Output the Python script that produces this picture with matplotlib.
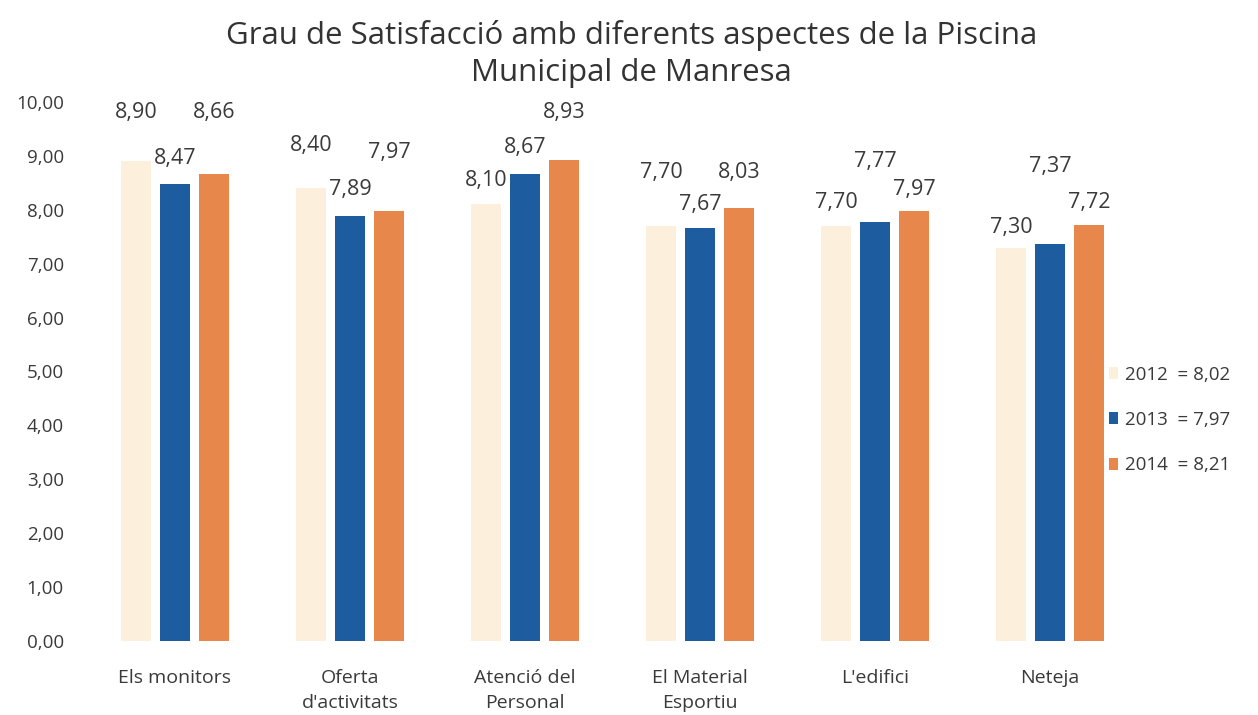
import numpy as np
import matplotlib
matplotlib.use("Agg")
from matplotlib import pyplot as plt
from matplotlib.patches import Patch

# Data
categories = ["Els monitors", "Oferta\nd'activitats", "Atenció del\nPersonal",
              "El Material\nEsportiu", "L'edifici", "Neteja"]
years = ["2012", "2013", "2014"]
vals_2012 = [8.90, 8.40, 8.10, 7.70, 7.70, 7.30]
vals_2013 = [8.47, 7.89, 8.67, 7.67, 7.77, 7.37]
vals_2014 = [8.66, 7.97, 8.93, 8.03, 7.97, 7.72]

# Label placement (offset above bar top, in data units) -- layout only
lab_off_2012 = [0.90, 0.80, 0.45, 1.00, 0.43, 0.38]
lab_off_2013 = [0.49, 0.48, 0.48, 0.42, 1.12, 1.43]
lab_off_2014 = [1.14, 1.10, 0.87, 0.67, 0.40, 0.41]

colors = ["#FCF0DC", "#1D5C9E", "#E8874C"]
text_col = "#3a3a3a"

plt.rcParams["font.family"] = ["Open Sans", "DejaVu Sans"]

fig = plt.figure(figsize=(12.58, 7.15), dpi=100)
ax = fig.add_axes([87.5 / 1258, 1 - 641 / 715, 1050 / 1258, 539 / 715])

x = np.arange(len(categories))
width = 0.175
step = 0.223

series = [vals_2012, vals_2013, vals_2014]
offsets = [lab_off_2012, lab_off_2013, lab_off_2014]
for i, (vals, offs) in enumerate(zip(series, offsets)):
    xpos = x + (i - 1) * step
    ax.bar(xpos, vals, width=width, color=colors[i], edgecolor="none")
    for xp, v, o in zip(xpos, vals, offs):
        ax.text(xp, v + o, f"{v:.2f}".replace(".", ","), ha="center", va="center",
                fontsize=15.5, color=text_col)

ax.set_xlim(-0.5, 5.5)
ax.set_ylim(0, 10)
ax.set_yticks(np.arange(0, 11, 1))
ax.set_yticklabels([f"{t:.2f}".replace(".", ",") for t in np.arange(0, 11, 1)],
                   fontsize=13.5, color=text_col)
ax.set_xticks(x)
ax.set_xticklabels(categories, fontsize=14, color=text_col, linespacing=1.5)
ax.tick_params(axis="both", length=0)
ax.tick_params(axis="y", pad=17)
ax.tick_params(axis="x", pad=20)
for s in ax.spines.values():
    s.set_visible(False)

fig.text(0.502, 1 - 54 / 715, "Grau de Satisfacció amb diferents aspectes de la Piscina\nMunicipal de Manresa",
         ha="center", va="center", fontsize=22.5, color="#333333", linespacing=1.32)

# legend with the average of each year
means = [np.mean(v) for v in series]
handles = [Patch(facecolor=colors[i], edgecolor="none",
                 label=f"{years[i]}  = {means[i]:.2f}".replace(".", ","))
           for i in range(3)]
fig.legend(handles=handles, loc="center left", bbox_to_anchor=(1092 / 1258, 1 - 420 / 715),
           frameon=False, fontsize=13.5, handlelength=0.5, handleheight=0.6,
           handletextpad=0.35, labelspacing=1.45, labelcolor=text_col)

fig.savefig("out.png", dpi=100)
